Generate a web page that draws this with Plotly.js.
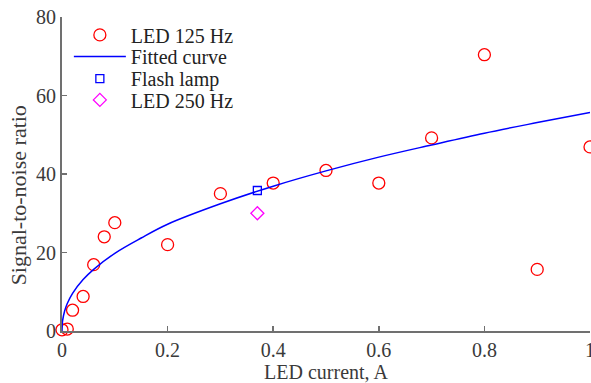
<!DOCTYPE html>
<html><head><meta charset="utf-8">
<script src="https://cdn.plot.ly/plotly-3.0.1.min.js"></script>
<style>html,body{margin:0;padding:0;background:#fff;}#chart{width:591px;height:383px;}</style>
</head><body><div id="chart"></div>
<script>
const led125X = [0, 0.01, 0.02, 0.04, 0.06, 0.08, 0.1, 0.2, 0.3, 0.4, 0.5, 0.6, 0.7, 0.8, 0.9, 1.0];
const led125Y = [0.3, 0.5, 5.3, 8.8, 16.9, 24.0, 27.6, 22.0, 35.0, 37.7, 40.9, 37.7, 49.2, 70.4, 15.7, 46.9];
const fitX = [0, 0.001, 0.005, 0.01, 0.02, 0.04, 0.06, 0.1, 0.15, 0.2, 0.3, 0.4, 0.5, 0.6, 0.7, 0.8, 0.9, 1.0];
const fitY = [0, 2.5, 5.1, 7.0, 9.6, 13.1, 15.7, 19.8, 23.7, 27.2, 32.4, 36.9, 40.8, 44.3, 47.4, 50.4, 53.1, 55.7];
const flashX = [0.37];
const flashY = [35.8];
const led250X = [0.37];
const led250Y = [30.0];
const xTicks = [0, 0.2, 0.4, 0.6, 0.8, 1];
const xTickText = ['0', '0.2', '0.4', '0.6', '0.8', '1'];
const yTicks = [0, 20, 40, 60, 80];
const yTitle = 'Signal-to-noise ratio';

const fam = '"Liberation Serif", "Times New Roman", serif';
const font = {family: fam, size: 20, color: '#3a3a3a'};
const yTitleFont = {family: fam, size: 22, color: '#3a3a3a'};
const legFont = {family: fam, size: 20, color: '#222222'};

const traces = [
  {x: led125X, y: led125Y, mode: 'markers', type: 'scatter', name: 'LED 125 Hz', cliponaxis: false, legend: 'legend',
   marker: {symbol: 'circle-open', size: 12, color: '#ff0000', line: {width: 1.3, color: '#ff0000'}}},
  {x: fitX, y: fitY, mode: 'lines', type: 'scatter', name: 'Fitted curve', cliponaxis: false, legend: 'legend2',
   line: {color: '#0000ff', width: 1.5, shape: 'spline'}},
  {x: flashX, y: flashY, mode: 'markers', type: 'scatter', name: 'Flash lamp', cliponaxis: false, legend: 'legend3',
   marker: {symbol: 'square-open', size: 8, color: '#0000ff', line: {width: 1.3, color: '#0000ff'}}},
  {x: led250X, y: led250Y, mode: 'markers', type: 'scatter', name: 'LED 250 Hz', cliponaxis: false, legend: 'legend4',
   marker: {symbol: 'diamond-open', size: 10, color: '#ff00ff', line: {width: 1.3, color: '#ff00ff'}}}
];

function leg(y) {
  return {x: 0.013, y: y, xanchor: 'left', yanchor: 'middle', bgcolor: 'rgba(0,0,0,0)',
          font: legFont, itemwidth: 52};
}

const layout = {
  width: 591, height: 383,
  margin: {l: 62, r: 1, t: 17, b: 52, pad: 0},
  paper_bgcolor: '#ffffff', plot_bgcolor: '#ffffff',
  font: font,
  showlegend: true,
  legend: leg(0.943),
  legend2: leg(0.874),
  legend3: leg(0.804),
  legend4: leg(0.736),
  xaxis: {range: [0, 1], tickvals: xTicks, ticktext: xTickText, ticks: 'inside', ticklen: 5, tickwidth: 1.5,
          tickcolor: '#707070', showline: true, linecolor: '#707070', linewidth: 2, showgrid: false, zeroline: false,
          ticklabeloverflow: 'allow',
          tickfont: font, title: {text: 'LED current, A', font: font, standoff: 11}},
  yaxis: {range: [0, 80], tickvals: yTicks, ticks: 'inside', ticklen: 5, tickwidth: 1.5,
          tickcolor: '#707070', showline: true, linecolor: '#707070', linewidth: 2, showgrid: false, zeroline: false,
          ticklabeloverflow: 'allow', tickfont: font},
  annotations: [
    {text: yTitle, xref: 'paper', yref: 'paper', x: -0.0833, y: 0.432, xanchor: 'center', yanchor: 'middle',
     textangle: -90, showarrow: false, font: yTitleFont}
  ]
};

Plotly.newPlot('chart', traces, layout, {displayModeBar: false, staticPlot: true});
</script></body></html>
